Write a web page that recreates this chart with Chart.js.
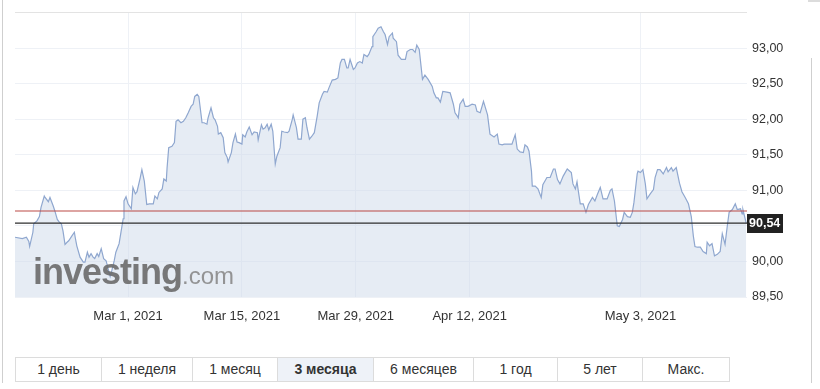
<!DOCTYPE html>
<html>
<head>
<meta charset="utf-8">
<script src="https://cdn.jsdelivr.net/npm/chart.js@4"></script>
<style>
  html, body { margin:0; padding:0; background:#fff; width:820px; height:389px; overflow:hidden; font-family:"Liberation Sans", Arial, sans-serif; }
  #wrap { position:absolute; left:0; top:0; width:800px; height:330px; }
  .frame { position:absolute; background:#cfcfcf; }
  #wm { position:absolute; left:33px; top:254px; white-space:nowrap; pointer-events:none; line-height:36px; opacity:0.9; }
  #wm .a { font-size:36px; font-weight:bold; color:#6b6b6b; letter-spacing:-1px; }
  #wm .b { font-size:24px; color:#8a8a8a; }
  #btns { position:absolute; left:15px; top:357px; height:25px; display:flex; border:1px solid #dcdcdc; box-sizing:border-box; }
  #btns div { box-sizing:border-box; height:23px; line-height:23px; text-align:center; font-size:14px; color:#333; border-left:1px solid #dcdcdc; }
  #btns div:first-child { border-left:none; }
  #btns div.sel { font-weight:bold; background:#eef2f8; }
</style>
</head>
<body>
<div class="frame" style="left:2px;top:0;width:1px;height:383px;"></div>
<div class="frame" style="left:811px;top:58px;width:1px;height:325px;"></div>
<div class="frame" style="left:808px;top:0;width:12px;height:2px;background:#dcdcdc;"></div>
<div id="wrap"><canvas id="c" width="800" height="330"></canvas></div>
<div id="wm"><span class="a">investing</span><span class="b">.com</span></div>
<div id="btns"></div>
<script>
// x positions: calendar days counted from Feb 14, 2021
const days = [1.1,2.0,2.5,2.8,2.9,3.3,3.4,3.8,4.1,4.3,4.7,4.8,5.2,5.4,5.8,6.0,6.3,6.5,6.8,7.0,7.25,7.5,7.7,8.1,8.4,8.5,8.7,9.1,9.5,9.7,10.0,10.2,10.45,10.7,10.9,11.2,11.4,11.7,12.0,12.3,12.5,12.8,13.0,13.3,13.5,13.9,14.1,14.4,14.5,14.75,15.0,15.4,15.6,15.9,16.1,16.5,16.7,17.0,17.3,17.6,18.1,18.3,18.6,18.8,19.2,19.4,19.7,19.8,20.0,20.4,20.7,20.9,21.15,21.5,21.8,22.1,22.4,22.75,23.0,23.2,23.5,23.7,24.1,24.35,24.7,24.84,25.2,25.5,25.7,26.0,26.1,26.4,26.7,26.9,27.2,27.3,27.7,27.9,28.2,28.4,28.65,29.0,29.1,29.4,29.6,29.9,30.25,30.5,30.9,31.0,31.4,31.6,31.85,32.1,32.3,32.6,32.8,33.1,33.3,33.7,33.9,34.2,34.6,34.8,35.2,35.3,35.7,35.9,36.3,36.5,36.8,37.0,37.3,37.6,37.9,38.25,38.5,38.9,39.1,39.5,39.7,40.1,40.5,40.8,41.1,41.3,41.6,41.9,42.06,42.3,42.7,42.9,43.2,43.5,43.8,44.0,44.4,44.6,45.0,45.1,45.5,45.75,46.1,46.4,46.6,46.9,47.1,47.5,47.6,48.0,48.2,48.6,48.8,49.1,49.3,49.7,50.0,50.3,50.5,50.8,51.2,51.5,51.9,52.4,52.6,52.9,53.1,53.4,53.7,54.2,54.6,55.0,55.2,55.5,55.6,55.8,56.2,56.45,56.8,57.3,57.7,57.9,58.3,58.7,59.2,59.5,60.0,60.4,60.6,61.0,61.25,61.6,62.2,62.6,62.85,63.2,63.6,63.8,64.1,64.3,64.6,64.7,65.06,65.4,65.8,66.0,66.5,66.9,67.3,67.5,67.8,68.1,68.5,69.0,69.5,69.7,70.0,70.2,70.35,70.6,70.96,71.3,71.6,72.1,72.4,72.7,73.06,73.4,73.9,74.3,74.5,74.8,75.15,75.4,75.8,76.0,76.4,76.75,77.0,77.2,77.6,77.7,78.0,78.3,78.6,78.8,79.2,79.6,79.8,80.1,80.4,80.8,81.2,81.4,81.8,82.0,82.4,82.8,83.1,83.5,83.9,84.25,84.5,84.7,85.0,85.36,85.7,86.1,86.2,86.5,86.8,87.1,87.45,87.8,88.06,88.4,88.7,88.9,89.3,89.66,89.9,90.3,90.5,90.6,91.0];
const prices = [90.34,90.32,90.34,90.28,90.21,90.41,90.53,90.57,90.63,90.76,90.92,90.90,90.84,90.90,90.78,90.71,90.59,90.56,90.53,90.43,90.24,90.27,90.29,90.36,90.41,90.34,90.22,90.06,89.99,89.99,90.13,90.06,90.11,90.06,90.04,90.11,90.07,90.18,90.04,90.01,89.92,89.79,89.87,90.01,90.13,90.25,90.39,90.60,90.85,90.91,90.81,90.74,91.04,90.95,90.98,91.18,91.29,91.13,90.80,90.81,90.81,90.92,90.88,90.97,91.02,91.16,91.13,91.32,91.60,91.62,91.67,91.97,91.99,91.95,91.97,92.02,92.09,92.18,92.21,92.32,92.35,92.32,91.95,91.95,91.93,92.02,92.16,92.02,91.99,91.90,91.79,91.81,91.74,91.53,91.46,91.40,91.53,91.67,91.79,91.68,91.67,91.65,91.78,91.75,91.82,91.89,91.78,91.82,91.81,91.71,91.92,91.86,91.88,91.93,91.85,91.93,91.83,91.37,91.48,91.60,91.83,91.82,91.81,91.83,92.00,92.06,91.88,91.72,91.72,92.00,92.02,91.88,91.72,91.76,91.81,92.04,92.23,92.35,92.39,92.38,92.44,92.55,92.56,92.58,92.79,92.84,92.84,92.72,92.72,92.84,92.70,92.72,92.79,92.81,92.79,92.91,92.88,92.91,93.02,93.16,93.23,93.28,93.30,93.23,93.19,93.05,93.16,93.21,93.14,93.09,92.90,92.84,92.84,92.84,92.95,92.98,92.98,92.94,93.04,92.98,92.56,92.62,92.56,92.46,92.37,92.30,92.30,92.24,92.39,92.38,92.37,92.21,92.09,92.04,92.02,92.21,92.28,92.18,92.18,92.21,92.20,92.11,92.09,92.25,92.06,91.79,91.75,91.79,91.65,91.64,91.65,91.65,91.65,91.78,91.58,91.54,91.53,91.64,91.61,91.55,91.27,91.06,91.06,91.02,90.90,91.08,91.18,91.18,91.30,91.30,91.15,91.09,91.20,91.30,91.25,91.09,91.02,91.12,91.00,90.81,90.81,90.69,90.80,90.90,90.85,90.94,91.04,90.88,90.88,91.00,91.02,90.85,90.50,90.49,90.59,90.69,90.63,90.62,90.69,90.83,91.23,91.27,91.25,91.29,91.09,90.88,90.95,91.01,91.18,91.29,91.29,91.23,91.32,91.26,91.32,91.27,91.32,91.10,90.98,90.90,90.81,90.63,90.36,90.21,90.20,90.20,90.14,90.11,90.27,90.22,90.25,90.08,90.10,90.14,90.39,90.24,90.52,90.69,90.73,90.81,90.73,90.74,90.67,90.73,90.54];
const xTickDays = [15, 29, 43, 57, 78];
const xTickLabels = ['Mar 1, 2021', 'Mar 15, 2021', 'Mar 29, 2021', 'Apr 12, 2021', 'May 3, 2021'];
const yTickValues = [89.5, 90.0, 90.5, 91.0, 91.5, 92.0, 92.5, 93.0, 93.5];
const redLevel = 90.71;
const lastPrice = 90.54;
const rangeButtons = ['1 день', '1 неделя', '1 месяц', '3 месяца', '6 месяцев', '1 год', '5 лет', 'Макс.'];
const selectedRange = '3 месяца';

const btnWidths = [85, 91, 85, 96, 100, 84, 85, 87];
const btns = document.getElementById('btns');
rangeButtons.forEach((t, i) => {
  const d = document.createElement('div');
  d.textContent = t;
  d.style.width = btnWidths[i] + 'px';
  if (t === selectedRange) d.className = 'sel';
  btns.appendChild(d);
});

const fmt = v => v.toFixed(2).replace('.', ',');

const lastLabel = {
  id: 'lastLabel',
  afterDatasetsDraw(chart) {
    const { ctx, chartArea: a, scales: { y } } = chart;
    const yb = Math.round(y.getPixelForValue(lastPrice)) + 0.5;
    ctx.save();
    ctx.fillStyle = '#222';
    ctx.fillRect(a.right, yb - 9.5, 36, 19);
    ctx.fillStyle = '#fff';
    ctx.font = 'bold 12.5px "Liberation Sans", Arial, sans-serif';
    ctx.textBaseline = 'middle';
    ctx.textAlign = 'left';
    ctx.fillText(fmt(lastPrice), a.right + 2, yb + 0.5);
    ctx.restore();
  }
};

new Chart(document.getElementById('c'), {
  type: 'line',
  data: {
    datasets: [{
      data: [{ x: 1.1, y: redLevel }, { x: 91.1, y: redLevel }],
      borderColor: '#bb4a47',
      borderWidth: 1.1,
      fill: false,
      pointRadius: 0,
      order: 0
    }, {
      data: [{ x: 1.1, y: lastPrice }, { x: 91.1, y: lastPrice }],
      borderColor: '#2e2e2e',
      borderWidth: 1.3,
      fill: false,
      pointRadius: 0,
      order: 0
    }, {
      data: days.map((d, i) => ({ x: d, y: prices[i] })),
      borderColor: '#8fa7cf',
      borderWidth: 1.2,
      backgroundColor: 'rgba(205,218,234,0.5)',
      fill: 'start',
      pointRadius: 0,
      tension: 0,
      order: 1
    }]
  },
  options: {
    responsive: false,
    animation: false,
    devicePixelRatio: 1,
    layout: { padding: { left: 15, top: 11, right: 0, bottom: 0 } },
    plugins: { legend: { display: false }, tooltip: { enabled: false } },
    scales: {
      x: {
        type: 'linear',
        min: 1.1, max: 91.1,
        afterBuildTicks: s => { s.ticks = xTickDays.map(v => ({ value: v })); },
        afterFit: s => { s.height = 33; },
        grid: { color: '#eef1f6', drawTicks: false },
        border: { display: false },
        ticks: {
          autoSkip: false, maxRotation: 0, padding: 12,
          color: '#333',
          font: { family: '"Liberation Sans", Arial, sans-serif', size: 13 },
          callback: (v) => { const i = xTickDays.indexOf(v); return i >= 0 ? xTickLabels[i] : ''; }
        }
      },
      y: {
        position: 'right',
        min: 89.5, max: 93.5,
        afterBuildTicks: s => { s.ticks = yTickValues.map(v => ({ value: v })); },
        afterFit: s => { s.width = 53; },
        grid: { color: c => (c.tick && c.tick.value === 93.5) ? '#e3e3e3' : '#eef1f6', drawTicks: false },
        border: { display: false },
        ticks: {
          padding: 5,
          color: '#333',
          font: { family: '"Liberation Sans", Arial, sans-serif', size: 12.5 },
          callback: v => v === 93.5 ? '' : fmt(v)
        }
      }
    }
  },
  plugins: [lastLabel]
});
</script>
</body>
</html>
